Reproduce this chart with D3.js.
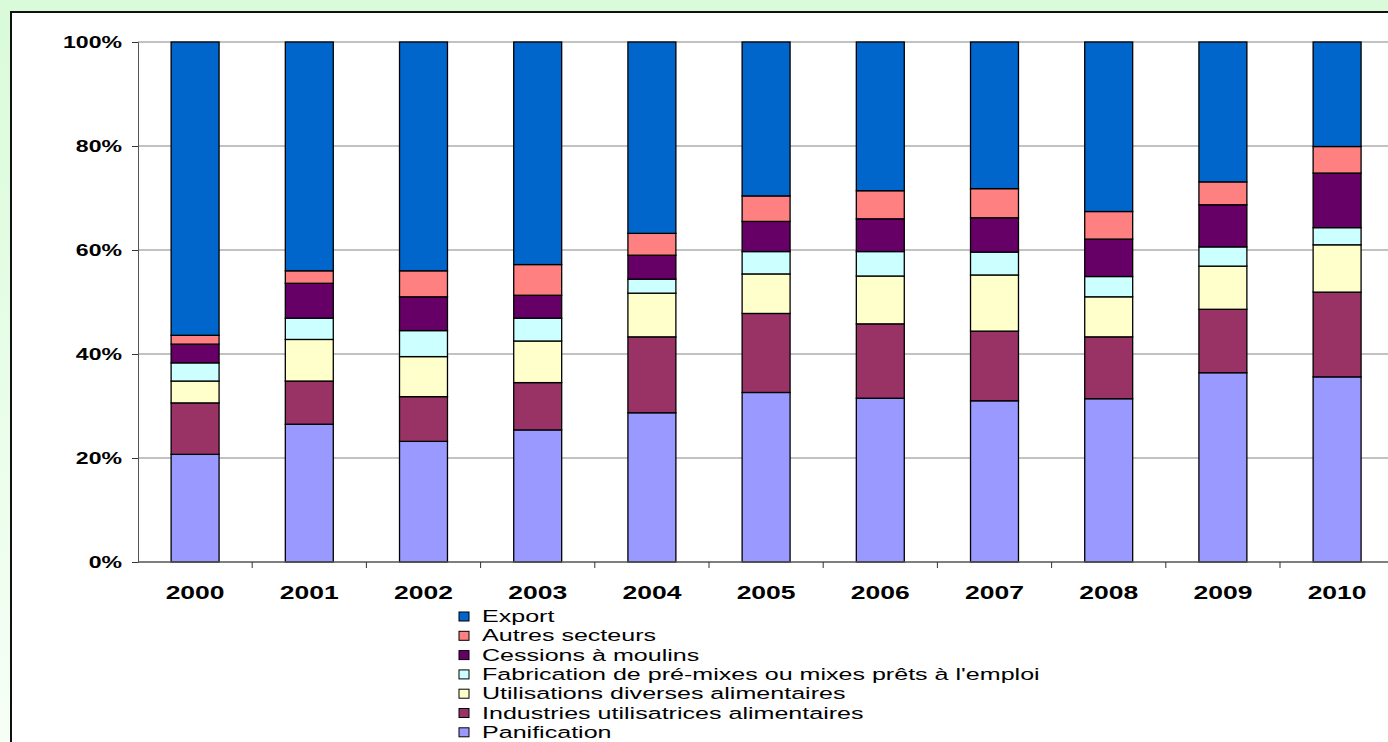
<!DOCTYPE html>
<html>
<head>
<meta charset="utf-8">
<script src="https://d3js.org/d3.v7.min.js"></script>
<style>
  body { margin: 0; overflow: hidden; }
  text { font-family: "Liberation Sans", Arial, sans-serif; }
</style>
</head>
<body>
<div class="chart"></div>
<script>
var years = ["2000","2001","2002","2003","2004","2005","2006","2007","2008","2009","2010"];
var yTicks = [0, 20, 40, 60, 80, 100];

// shares in %
var panification = [20.7, 26.5, 23.2, 25.4, 28.7, 32.6, 31.5, 31.0, 31.4, 36.4, 35.6];
var industries   = [9.9, 8.3, 8.6, 9.1, 14.6, 15.2, 14.3, 13.4, 11.9, 12.2, 16.3];
var utilisations = [4.2, 8.0, 7.7, 8.0, 8.4, 7.6, 9.2, 10.8, 7.7, 8.3, 9.1];
var fabrication  = [3.5, 4.1, 5.0, 4.4, 2.7, 4.3, 4.7, 4.4, 3.9, 3.7, 3.3];
var cessions     = [3.6, 6.7, 6.5, 4.4, 4.6, 5.8, 6.3, 6.6, 7.2, 8.1, 10.5];
var autres       = [1.7, 2.4, 5.0, 5.9, 4.2, 4.9, 5.4, 5.6, 5.3, 4.4, 5.1];
var exportVals   = [56.4, 44.0, 44.0, 42.8, 36.8, 29.6, 28.6, 28.2, 32.6, 26.9, 20.1];

// bottom to top
var series = [
  {name: "Panification", color: "#9999ff", values: panification},
  {name: "Industries utilisatrices alimentaires", color: "#993366", values: industries},
  {name: "Utilisations diverses alimentaires", color: "#ffffcc", values: utilisations},
  {name: "Fabrication de pré-mixes ou mixes prêts à l'emploi", color: "#ccffff", values: fabrication},
  {name: "Cessions à moulins", color: "#660066", values: cessions},
  {name: "Autres secteurs", color: "#ff8080", values: autres},
  {name: "Export", color: "#0066cc", values: exportVals}
];

var width = 1388, height = 742;
var x0 = 138, y0 = 562, y1 = 42, step = 114.2;

var svg = d3.select(".chart").append("svg")
  .attr("width", width).attr("height", height);

var grad = svg.append("defs").append("linearGradient")
  .attr("id", "bg").attr("x1", 0).attr("y1", 0).attr("x2", 0).attr("y2", 1);
grad.append("stop").attr("offset", "0%").attr("stop-color", "#d9fbd9");
grad.append("stop").attr("offset", "100%").attr("stop-color", "#f6fff6");

svg.append("rect").attr("width", width).attr("height", height).attr("fill", "url(#bg)");
svg.append("rect")
  .attr("x", 11).attr("y", 12).attr("width", width + 20).attr("height", height)
  .attr("fill", "#fff").attr("stroke", "#111").attr("stroke-width", 2);

var x = d3.scaleBand().domain(years)
  .range([x0, x0 + step * years.length])
  .paddingInner(0.58).paddingOuter(0.29);
var y = d3.scaleLinear().domain([0, 100]).range([y0, y1]);

// gridlines
svg.append("g").selectAll("line")
  .data(yTicks.slice(1)).enter().append("line")
  .attr("x1", x0).attr("x2", width)
  .attr("y1", function(d){ return y(d); }).attr("y2", function(d){ return y(d); })
  .attr("stroke", "#858585").attr("stroke-width", 1);

// stacked bars
var table = years.map(function(yr, i){
  var row = {year: yr};
  series.forEach(function(s){ row[s.name] = s.values[i]; });
  return row;
});
var stacked = d3.stack().keys(series.map(function(s){ return s.name; }))(table);

svg.append("g").selectAll("g")
  .data(stacked).enter().append("g")
  .attr("fill", function(d, i){ return series[i].color; })
  .selectAll("rect")
  .data(function(d){ return d; }).enter().append("rect")
  .attr("x", function(d){ return x(d.data.year); })
  .attr("width", x.bandwidth())
  .attr("y", function(d){ return y(d[1]); })
  .attr("height", function(d){ return y(d[0]) - y(d[1]); })
  .attr("stroke", "#000").attr("stroke-width", 1.3);

// axes
var yAxis = svg.append("g").attr("transform", "translate(" + x0 + ",0)")
  .call(d3.axisLeft(y).tickValues(yTicks).tickFormat(function(d){ return d + "%"; })
    .tickSize(6).tickPadding(10));
yAxis.select(".domain").attr("stroke", "#555");
yAxis.selectAll(".tick line").attr("stroke", "#333");
yAxis.selectAll("text").attr("font-size", 16).attr("font-weight", "bold")
  .attr("fill", "#000").attr("font-family", "Liberation Sans, Arial, sans-serif");

var xAxis = svg.append("g").attr("transform", "translate(0," + y0 + ")")
  .call(d3.axisBottom(x).tickSize(0).tickPadding(24));
xAxis.select(".domain").remove();
xAxis.append("line").attr("x1", x0).attr("x2", width).attr("stroke", "#555").attr("stroke-width", 1.5);
xAxis.selectAll(".sep").data(years.slice(1)).enter().append("line")
  .attr("class", "sep")
  .attr("x1", function(d){ return x(d) - x.step() * x.paddingInner() / 2; })
  .attr("x2", function(d){ return x(d) - x.step() * x.paddingInner() / 2; })
  .attr("y1", 0).attr("y2", 6).attr("stroke", "#333");
xAxis.selectAll(".tick text").attr("font-size", 19).attr("font-weight", "bold")
  .attr("fill", "#000").attr("font-family", "Liberation Sans, Arial, sans-serif");

// the original text is stretched sideways
function stretch(sel, target) {
  return target / sel.node().getComputedTextLength();
}
var sy = stretch(yAxis.select(".tick:last-of-type text"), 59);
yAxis.selectAll(".tick text")
  .attr("transform", "translate(-16,0) scale(" + sy + ",1) translate(16,0)");
var sx = stretch(xAxis.select(".tick text"), 59);
xAxis.selectAll(".tick text").attr("transform", "scale(" + sx + ",1)");

// legend
var legend = svg.append("g").attr("transform", "translate(459,616)");
var items = legend.selectAll("g").data(series.slice().reverse()).enter().append("g")
  .attr("transform", function(d, i){ return "translate(0," + (i * 19.3) + ")"; });
items.append("rect").attr("x", 0).attr("y", -4).attr("width", 10).attr("height", 9)
  .attr("fill", function(d){ return d.color; })
  .attr("stroke", "#000").attr("stroke-width", 1);
var labels = items.append("text").attr("x", 0).attr("y", 6)
  .attr("font-size", 17).attr("fill", "#000")
  .text(function(d){ return d.name; });
var longest = labels.filter(function(d){ return d.name.indexOf("Fabrication") === 0; });
var sl = stretch(longest, 558);
labels.attr("transform", "translate(23,0) scale(" + sl + ",1)");
</script>
</body>
</html>
